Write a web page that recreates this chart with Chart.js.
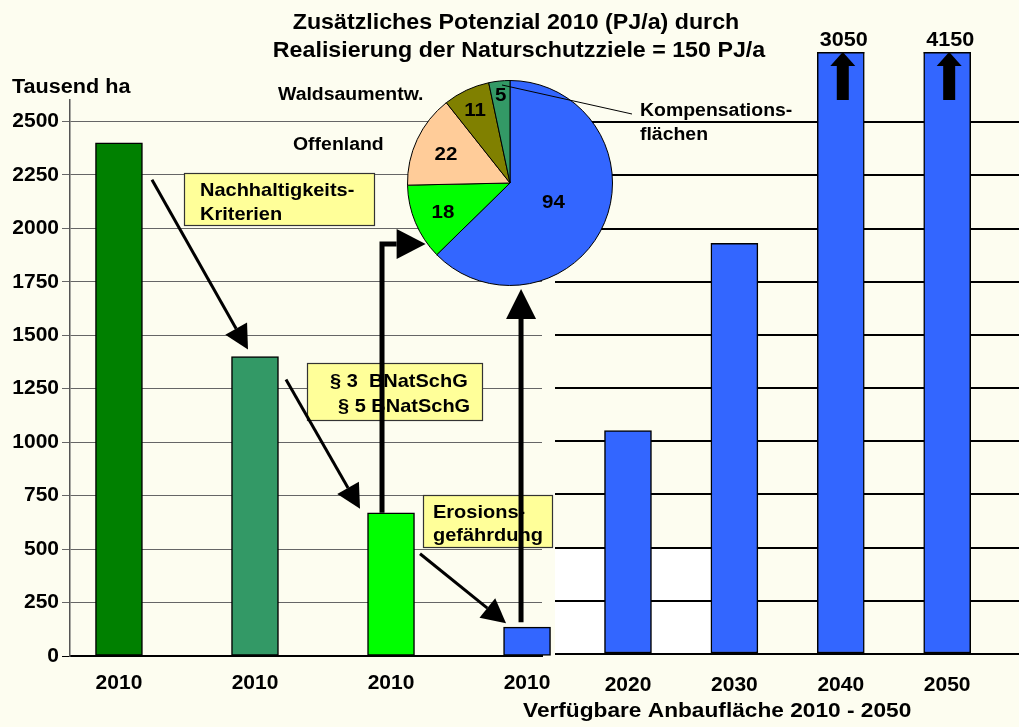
<!DOCTYPE html>
<html><head><meta charset="utf-8">
<script src="https://cdn.jsdelivr.net/npm/chart.js@4/dist/chart.umd.min.js"></script>
<style>
html,body{margin:0;padding:0;background:#fdfdf0;}
#wrap{position:relative;width:1019px;height:727px;overflow:hidden;background:#fdfdf0;}
canvas{position:absolute;left:0;top:0;}
</style></head><body>
<div id="wrap">
<canvas id="left" width="1019" height="727"></canvas>
<canvas id="right" width="1019" height="727"></canvas>
<canvas id="pie" width="1019" height="727"></canvas>
</div>
<script>
// ---------- data ----------
const titleLines = ['Zusätzliches Potenzial 2010 (PJ/a) durch', 'Realisierung der Naturschutzziele = 150 PJ/a'];
const yAxisTitle = 'Tausend ha';
const leftCategories = ['2010', '2010', '2010', '2010'];
const leftValues = [2400, 1400, 670, 135];
const leftColors = ['#008000', '#339966', '#00ff00', '#3366ff'];
const rightCategories = ['2020', '2030', '2040', '2050'];
const rightValues = [1050, 1930, 3050, 4150];
const rightColor = '#3366ff';
const rightAxisTitle = 'Verfügbare Anbaufläche 2010 - 2050';
const yTicksMax = 2500;
const yTickStep = 250;
const pieNames = ['Anbaufläche', 'Erosion', 'Offenland', 'Waldsaumentw.', 'Kompensationsflächen'];
const pieValues = [94, 18, 22, 11, 5];
const pieColors = ['#3366ff', '#00ff00', '#ffcc99', '#808000', '#339966'];
const boxTexts = [['Nachhaltigkeits-', 'Kriterien'], ['§ 3  BNatSchG', '§ 5 BNatSchG'], ['Erosions-', 'gefährdung']];

// ---------- helpers ----------
const FAM = '"Liberation Sans", Arial, Helvetica, sans-serif';
Chart.defaults.font.family = FAM;
const SX = 1.08;
function txt(ctx, s, x, y, size, align, sx) {
  sx = sx || SX;
  ctx.save();
  ctx.font = 'bold ' + size + 'px ' + FAM;
  ctx.fillStyle = '#000';
  ctx.textBaseline = 'alphabetic';
  const w = ctx.measureText(s).width * sx;
  let x0 = x;
  if (align === 'center') x0 = x - w / 2;
  else if (align === 'right') x0 = x - w;
  ctx.translate(x0, y);
  ctx.scale(sx, 1);
  ctx.textAlign = 'left';
  ctx.fillText(s, 0, 0);
  ctx.restore();
}
function arrow(ctx, pts, lw, headLen, headW) {
  const n = pts.length;
  const [x2, y2] = pts[n - 1];
  const [x1, y1] = pts[n - 2];
  const ang = Math.atan2(y2 - y1, x2 - x1);
  const bx = x2 - headLen * Math.cos(ang), by = y2 - headLen * Math.sin(ang);
  ctx.save();
  ctx.strokeStyle = '#000'; ctx.fillStyle = '#000';
  ctx.lineWidth = lw; ctx.lineJoin = 'miter'; ctx.lineCap = 'butt';
  ctx.beginPath();
  ctx.moveTo(pts[0][0], pts[0][1]);
  for (let i = 1; i < n - 1; i++) ctx.lineTo(pts[i][0], pts[i][1]);
  ctx.lineTo(bx, by);
  ctx.stroke();
  ctx.beginPath();
  ctx.moveTo(x2, y2);
  ctx.lineTo(bx + headW / 2 * Math.sin(ang), by - headW / 2 * Math.cos(ang));
  ctx.lineTo(bx - headW / 2 * Math.sin(ang), by + headW / 2 * Math.cos(ang));
  ctx.closePath();
  ctx.fill();
  ctx.restore();
}
function box(ctx, x, y, w, h) {
  ctx.save();
  ctx.fillStyle = '#ffff99';
  ctx.strokeStyle = '#333';
  ctx.lineWidth = 1.2;
  ctx.fillRect(x, y, w, h);
  ctx.strokeRect(x + 0.5, y + 0.5, w, h);
  ctx.restore();
}
const tickFont = {family: FAM, size: 21, weight: 'bold'};
const common = {
  responsive: false, animation: false, events: [], devicePixelRatio: 1,
  plugins: {legend: {display: false}, tooltip: {enabled: false}, title: {display: false}}
};

// ---------- left chart ----------
const leftChart = new Chart(document.getElementById('left'), {
  type: 'bar',
  data: {datasets: [{
    data: leftValues.map((v, i) => ({x: i, y: v})),
    backgroundColor: leftColors, borderColor: '#000', borderWidth: 1.5,
    borderSkipped: false, barThickness: 47, clip: false
  }]},
  options: Object.assign({}, common, {
    layout: {padding: {top: 100, left: 0, right: 1019 - 542, bottom: 0}},
    scales: {
      x: {
        type: 'linear', min: -0.36, max: 3.11, offset: false,
        grid: {display: false, drawTicks: false},
        border: {display: true, color: '#000', width: 2},
        ticks: {stepSize: 1, includeBounds: false, autoSkip: false, maxRotation: 0, padding: 15,
          color: '#000', font: tickFont, callback: v => leftCategories[v] ?? ''},
        afterFit: s => { s.height = 71; }
      },
      y: {
        min: 0, max: 2600,
        grid: {color: c => (c.tick && c.tick.value === 0) ? '#000' : '#666', lineWidth: 1, tickLength: 8},
        border: {display: true, color: '#555', width: 1.5},
        ticks: {stepSize: yTickStep, includeBounds: false, padding: 3, color: '#000', font: tickFont,
          callback: v => v <= yTicksMax ? String(v) : ''},
        afterFit: s => { s.width = 70; }
      }
    }
  }),
  plugins: [{
    id: 'leftText',
    afterDraw(chart) {
      txt(chart.ctx, yAxisTitle, 12, 93, 20, 'left');
    }
  }]
});

// ---------- right chart ----------
const rightChart = new Chart(document.getElementById('right'), {
  type: 'bar',
  data: {datasets: [{
    data: rightValues.map((v, i) => ({x: i, y: v})),
    backgroundColor: rightColor, borderColor: '#000', borderWidth: 1.5,
    borderSkipped: false, barThickness: 47,
    clip: {left: false, top: 0, right: false, bottom: false}
  }]},
  options: Object.assign({}, common, {
    layout: {padding: {top: 52, left: 555, right: 0, bottom: 0}},
    scales: {
      x: {
        type: 'linear', min: -0.686, max: 3.675, offset: false,
        grid: {display: false, drawTicks: false},
        border: {display: false},
        ticks: {stepSize: 1, includeBounds: false, autoSkip: false, maxRotation: 0, padding: 19,
          color: '#000', font: tickFont, callback: v => rightCategories[v] ?? ''},
        afterFit: s => { s.height = 73; }
      },
      y: {
        min: 0, max: 2830,
        grid: {color: c => (c.tick && c.tick.value > yTicksMax) ? 'rgba(0,0,0,0)' : '#000', lineWidth: 2, drawTicks: false},
        border: {display: false},
        ticks: {display: false, stepSize: yTickStep, includeBounds: false},
        afterFit: s => { s.width = 0; }
      }
    }
  }),
  plugins: [{
    id: 'rightDeco',
    beforeDraw(chart) {
      const ctx = chart.ctx, ca = chart.chartArea, ys = chart.scales.y;
      const els = chart.getDatasetMeta(0).data;
      if (!els.length) return;
      const x2 = els[1].x - els[1].width / 2;
      const yTop = ys.getPixelForValue(500), yBot = ys.getPixelForValue(0);
      ctx.save();
      ctx.fillStyle = '#ffffff';
      ctx.fillRect(ca.left, yTop, x2 - ca.left, yBot - yTop);
      ctx.restore();
    },
    afterDatasetsDraw(chart) {
      const ctx = chart.ctx, ca = chart.chartArea, ys = chart.scales.y;
      chart.getDatasetMeta(0).data.forEach((el, i) => {
        const v = rightValues[i];
        if (v > ys.max) {
          ctx.save();
          ctx.strokeStyle = '#000'; ctx.lineWidth = 1.5;
          ctx.beginPath();
          ctx.moveTo(el.x - el.width / 2, ca.top + 0.75);
          ctx.lineTo(el.x + el.width / 2, ca.top + 0.75);
          ctx.stroke();
          ctx.restore();
          arrow(ctx, [[el.x + 2, ca.top + 48], [el.x + 2, ca.top]], 12, 14, 25);
          txt(ctx, String(v), el.x + 3, ca.top - 6, 20, 'center');
        }
      });
      txt(ctx, rightAxisTitle, 523, 717, 21, 'left');
    }
  }]
});

// ---------- pie + annotations ----------
const pieChart = new Chart(document.getElementById('pie'), {
  type: 'pie',
  data: {labels: pieNames, datasets: [{data: pieValues, backgroundColor: pieColors, borderColor: '#000', borderWidth: 1}]},
  options: Object.assign({}, common, {
    layout: {padding: {left: 407, right: 406, top: 80, bottom: 441}}
  }),
  plugins: [{
    id: 'annot',
    afterDraw(chart) {
      const ctx = chart.ctx;
      const arcs = chart.getDatasetMeta(0).data;
      const cx = arcs[0].x, cy = arcs[0].y, r = arcs[0].outerRadius;
      // slice value labels
      const frac = [0.46, 0.71, 0.69, 0.80, 0.87];
      arcs.forEach((a, i) => {
        const mid = (a.startAngle + a.endAngle) / 2;
        const px = cx + Math.cos(mid) * r * frac[i];
        const py = cy + Math.sin(mid) * r * frac[i];
        txt(ctx, String(pieValues[i]), px, py + 7, 19, 'center');
      });
      // leader line for Kompensationsflächen
      ctx.save();
      ctx.strokeStyle = '#000'; ctx.lineWidth = 1;
      ctx.beginPath(); ctx.moveTo(cx - 8, cy - 98); ctx.lineTo(632, 114); ctx.stroke();
      ctx.restore();
      txt(ctx, 'Kompensations-', 640, 116, 18, 'left');
      txt(ctx, 'flächen', 640, 140, 18, 'left');
      txt(ctx, pieNames[3], 278, 100, 18, 'left');
      txt(ctx, pieNames[2], 293, 150, 18, 'left');

      // title
      txt(ctx, titleLines[0], 516, 29, 21.5, 'center');
      txt(ctx, titleLines[1], 519, 57, 21.5, 'center');

      // boxes
      box(ctx, 184, 173, 190, 52);
      txt(ctx, boxTexts[0][0], 200, 196, 18.5, 'left');
      txt(ctx, boxTexts[0][1], 200, 220, 18.5, 'left');
      box(ctx, 307, 363, 175, 57);
      txt(ctx, boxTexts[1][0], 330, 387, 18.5, 'left');
      txt(ctx, boxTexts[1][1], 338, 412, 18.5, 'left');
      box(ctx, 423, 495, 129, 52);
      txt(ctx, boxTexts[2][0], 433, 518, 18.5, 'left');
      txt(ctx, boxTexts[2][1], 433, 541, 18.5, 'left');

      // arrows anchored on the left bars
      const b = leftChart.getDatasetMeta(0).data;
      arrow(ctx, [[b[0].x + 33, b[0].y + 37], [b[1].x - 7, b[1].y - 7]], 3, 24, 25);
      arrow(ctx, [[b[1].x + 31, b[1].y + 23], [b[2].x - 31, b[2].y - 4]], 3, 24, 25);
      arrow(ctx, [[b[2].x + 29, b[2].y + 41], [b[3].x - 21, b[3].y - 4]], 3, 24, 25);
      const yh = cy + 61;
      const tipX = cx - Math.sqrt(r * r - 61 * 61) - 2;
      arrow(ctx, [[b[2].x - 9, b[2].y], [b[2].x - 9, yh], [tipX, yh]], 5, 29, 30);
      const vx = b[3].x - 6;
      const bottomY = cy + Math.sqrt(r * r - (vx - cx) * (vx - cx)) + 4;
      arrow(ctx, [[vx, b[3].y - 5], [vx, bottomY]], 5, 30, 30);
    }
  }]
});
</script>
</body></html>
